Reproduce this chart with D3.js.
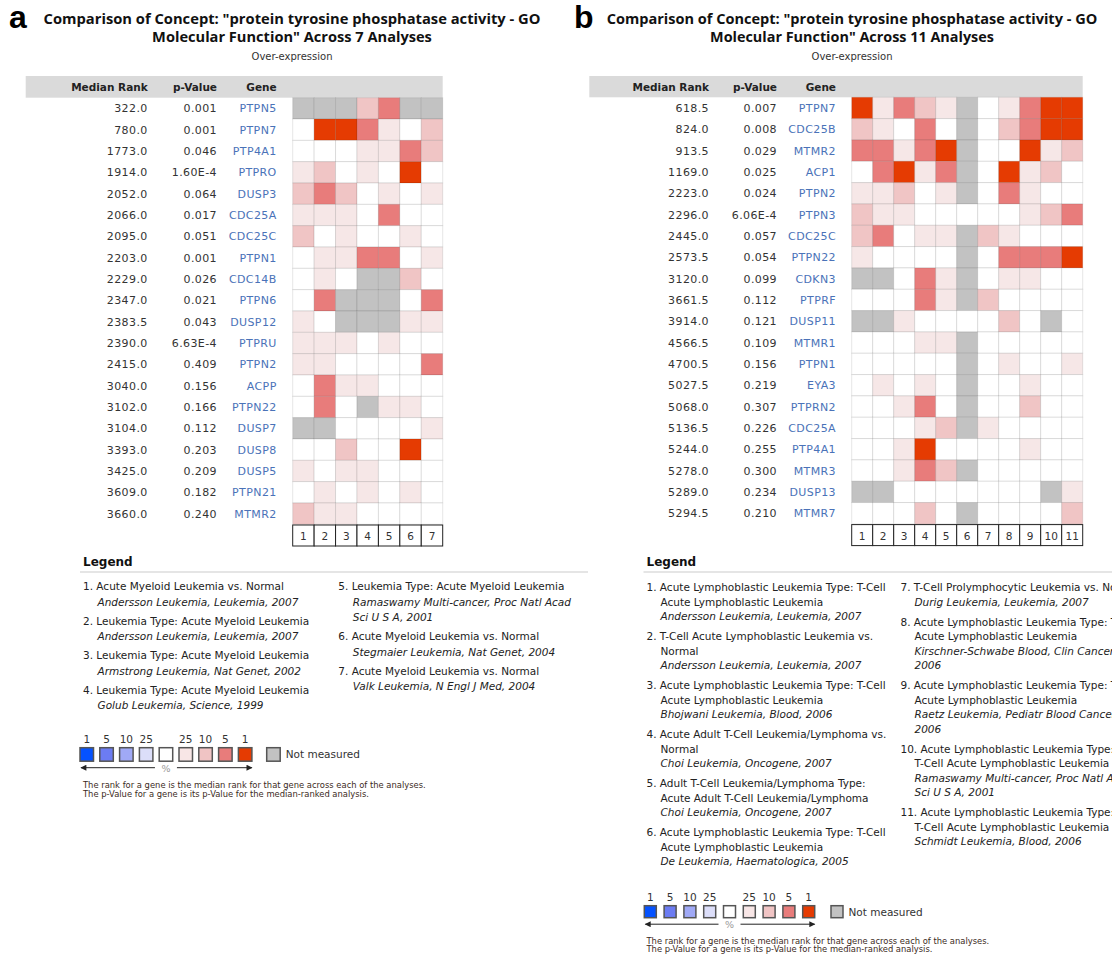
<!DOCTYPE html>
<html><head><meta charset="utf-8">
<script src="https://cdn.jsdelivr.net/npm/d3@7"></script>
<style>body{margin:0;background:#fff}svg{display:block}</style>
</head><body><svg id="c" width="1112" height="960"></svg>
<script>
// ---------------- DATA ----------------
const titleLine1 = 'Comparison of Concept: "protein tyrosine phosphatase activity - GO';
const titleLine2A = 'Molecular Function" Across 7 Analyses';
const titleLine2B = 'Molecular Function" Across 11 Analyses';
const subtitle = "Over-expression";
const tableHeaders = ["Median Rank", "p-Value", "Gene"];

// -1 = not measured, 0 = none, 1 = top 25%, 2 = top 10%, 3 = top 5%, 4 = top 1%
const genesA = ["PTPN5","PTPN7","PTP4A1","PTPRO","DUSP3","CDC25A","CDC25C","PTPN1","CDC14B","PTPN6","DUSP12","PTPRU","PTPN2","ACPP","PTPN22","DUSP7","DUSP8","DUSP5","PTPN21","MTMR2"];
const rankA = ["322.0","780.0","1773.0","1914.0","2052.0","2066.0","2095.0","2203.0","2229.0","2347.0","2383.5","2390.0","2415.0","3040.0","3102.0","3104.0","3393.0","3425.0","3609.0","3660.0"];
const pvalA = ["0.001","0.001","0.046","1.60E-4","0.064","0.017","0.051","0.001","0.026","0.021","0.043","6.63E-4","0.409","0.156","0.166","0.112","0.203","0.209","0.182","0.240"];
const cellsA = [
  [-1,-1,-1, 2, 3,-1,-1],
  [ 0, 4, 4, 3, 1, 0, 2],
  [ 0, 0, 0, 1, 1, 3, 2],
  [ 1, 2, 0, 1, 0, 4, 0],
  [ 2, 3, 2, 0, 1, 0, 1],
  [ 1, 1, 1, 0, 3, 0, 0],
  [ 2, 0, 1, 0, 0, 1, 0],
  [ 0, 1, 1, 3, 3, 0, 1],
  [ 0, 1, 0,-1,-1, 2, 0],
  [ 0, 3,-1,-1,-1, 0, 3],
  [ 1, 0,-1,-1,-1, 1, 1],
  [ 1, 1, 1, 0, 1, 0, 0],
  [ 1, 1, 0, 0, 0, 0, 3],
  [ 0, 3, 1, 1, 0, 0, 0],
  [ 0, 3, 0,-1, 1, 1, 0],
  [-1,-1, 0, 0, 0, 0, 1],
  [ 0, 0, 2, 0, 0, 4, 0],
  [ 1, 0, 1, 1, 0, 0, 0],
  [ 0, 1, 0, 1, 0, 1, 0],
  [ 2, 1, 1, 0, 0, 0, 0]
];

const genesB = ["PTPN7","CDC25B","MTMR2","ACP1","PTPN2","PTPN3","CDC25C","PTPN22","CDKN3","PTPRF","DUSP11","MTMR1","PTPN1","EYA3","PTPRN2","CDC25A","PTP4A1","MTMR3","DUSP13","MTMR7"];
const rankB = ["618.5","824.0","913.5","1169.0","2223.0","2296.0","2445.0","2573.5","3120.0","3661.5","3914.0","4566.5","4700.5","5027.5","5068.0","5136.5","5244.0","5278.0","5289.0","5294.5"];
const pvalB = ["0.007","0.008","0.029","0.025","0.024","6.06E-4","0.057","0.054","0.099","0.112","0.121","0.109","0.156","0.219","0.307","0.226","0.255","0.300","0.234","0.210"];
const cellsB = [
  [ 4, 1, 3, 2, 1,-1, 0, 1, 3, 4, 4],
  [ 2, 1, 0, 3, 0,-1, 0, 2, 3, 4, 4],
  [ 3, 3, 1, 3, 4,-1, 0, 0, 4, 1, 2],
  [ 0, 3, 4, 1, 3,-1, 0, 4, 1, 2, 0],
  [ 1, 1, 2, 0, 1,-1, 0, 3, 1, 0, 0],
  [ 2, 1, 1, 0, 0, 0, 0, 0, 1, 2, 3],
  [ 2, 3, 0, 1, 1,-1, 2, 1, 0, 0, 0],
  [ 1, 0, 0, 0, 0,-1, 0, 3, 3, 3, 4],
  [-1,-1, 0, 3, 1,-1, 0, 1, 1, 0, 0],
  [ 0, 0, 0, 3, 1,-1, 2, 0, 0, 0, 0],
  [-1,-1, 1, 0, 0, 0, 0, 2, 0,-1, 0],
  [ 0, 0, 0, 1, 1,-1, 0, 0, 0, 0, 0],
  [ 0, 0, 0, 0, 0,-1, 0, 1, 0, 0, 1],
  [ 0, 1, 0, 1, 0,-1, 0, 0, 1, 0, 0],
  [ 0, 0, 1, 3, 0,-1, 0, 0, 2, 0, 0],
  [ 0, 0, 0, 1, 2,-1, 1, 0, 0, 0, 0],
  [ 0, 0, 1, 4, 0, 0, 0, 0, 1, 0, 0],
  [ 0, 0, 1, 3, 2,-1, 0, 0, 0, 0, 0],
  [-1,-1, 0, 0, 0, 0, 0, 0, 0,-1, 1],
  [ 0, 0, 0, 2, 0,-1, 0, 0, 0, 0, 2]
];

const legendTitle = "Legend";
// each item: [plain lines], [italic citation lines]
const legendA = [
  [["Acute Myeloid Leukemia vs. Normal"], ["Andersson Leukemia, Leukemia, 2007"]],
  [["Leukemia Type: Acute Myeloid Leukemia"], ["Andersson Leukemia, Leukemia, 2007"]],
  [["Leukemia Type: Acute Myeloid Leukemia"], ["Armstrong Leukemia, Nat Genet, 2002"]],
  [["Leukemia Type: Acute Myeloid Leukemia"], ["Golub Leukemia, Science, 1999"]],
  [["Leukemia Type: Acute Myeloid Leukemia"], ["Ramaswamy Multi-cancer, Proc Natl Acad", "Sci U S A, 2001"]],
  [["Acute Myeloid Leukemia vs. Normal"], ["Stegmaier Leukemia, Nat Genet, 2004"]],
  [["Acute Myeloid Leukemia vs. Normal"], ["Valk Leukemia, N Engl J Med, 2004"]]
];
const legendB = [
  [["Acute Lymphoblastic Leukemia Type: T-Cell", "Acute Lymphoblastic Leukemia"], ["Andersson Leukemia, Leukemia, 2007"]],
  [["T-Cell Acute Lymphoblastic Leukemia vs.", "Normal"], ["Andersson Leukemia, Leukemia, 2007"]],
  [["Acute Lymphoblastic Leukemia Type: T-Cell", "Acute Lymphoblastic Leukemia"], ["Bhojwani Leukemia, Blood, 2006"]],
  [["Acute Adult T-Cell Leukemia/Lymphoma vs.", "Normal"], ["Choi Leukemia, Oncogene, 2007"]],
  [["Adult T-Cell Leukemia/Lymphoma Type:", "Acute Adult T-Cell Leukemia/Lymphoma"], ["Choi Leukemia, Oncogene, 2007"]],
  [["Acute Lymphoblastic Leukemia Type: T-Cell", "Acute Lymphoblastic Leukemia"], ["De Leukemia, Haematologica, 2005"]],
  [["T-Cell Prolymphocytic Leukemia vs. Normal"], ["Durig Leukemia, Leukemia, 2007"]],
  [["Acute Lymphoblastic Leukemia Type: T-Cell", "Acute Lymphoblastic Leukemia"], ["Kirschner-Schwabe Blood, Clin Cancer Res,", "2006"]],
  [["Acute Lymphoblastic Leukemia Type: T-Cell", "Acute Lymphoblastic Leukemia"], ["Raetz Leukemia, Pediatr Blood Cancer,", "2006"]],
  [["Acute Lymphoblastic Leukemia Type:", "T-Cell Acute Lymphoblastic Leukemia"], ["Ramaswamy Multi-cancer, Proc Natl Acad", "Sci U S A, 2001"]],
  [["Acute Lymphoblastic Leukemia Type:", "T-Cell Acute Lymphoblastic Leukemia"], ["Schmidt Leukemia, Blood, 2006"]]
];
const scalePctLabels = ["1", "5", "10", "25", "", "25", "10", "5", "1"];
const scaleKeys = ["u1", "u5", "u10", "u25", "n", "o25", "o10", "o5", "o1"];
const notMeasuredLabel = "Not measured";
const percentLabel = "%";
const footnotes = [
  "The rank for a gene is the median rank for that gene across each of the analyses.",
  "The p-Value for a gene is its p-Value for the median-ranked analysis."
];

// ---------------- STYLES ----------------
const FONT = "'DejaVu Sans', Verdana, sans-serif";
const TITLE_FONT = "'Open Sans', 'DejaVu Sans', sans-serif";
const cellColor = d3.scaleOrdinal()
  .domain([-1, 0, 1, 2, 3, 4])
  .range(["#c2c2c2", "#ffffff", "#f6e7e7", "#f0c5c5", "#e87c7b", "#e53b02"]);
const keyColor = d3.scaleOrdinal()
  .domain(scaleKeys)
  .range(["#0552ff", "#6c7cf2", "#a0a9f6", "#dcdef9", "#ffffff", "#f8e6e6", "#f0c4c4", "#e87c7b", "#e53b02"]);

const svg = d3.select("#c");
svg.append("rect").attr("width", 1112).attr("height", 960).attr("fill", "#fff");
const defs = svg.append("defs");
defs.append("marker").attr("id", "arr").attr("viewBox", "0 0 10 10")
  .attr("refX", 9).attr("refY", 5).attr("markerWidth", 10).attr("markerHeight", 6)
  .attr("markerUnits", "userSpaceOnUse").attr("orient", "auto-start-reverse")
  .append("path").attr("d", "M0,0 L10,5 L0,10 z").attr("fill", "#222");

// scale the font size so that a text spans the wanted width
function fitSize(t, w, base) {
  const L = t.node().getComputedTextLength();
  if (L > 0) t.attr("font-size", (base * w / L).toFixed(2));
}

function drawPanel(cfg) {
  const g = svg.append("g");
  const n = cfg.cells[0].length;
  // panel letter
  g.append("text").attr("x", cfg.letterX).attr("y", 28)
    .attr("font-family", "'Liberation Sans', Arial, sans-serif").attr("font-weight", "bold")
    .attr("font-size", 32).attr("fill", "#000").text(cfg.letter);
  // titles
  const t1 = g.append("text").attr("x", cfg.cx).attr("y", 23.5).attr("text-anchor", "middle")
    .attr("font-family", TITLE_FONT).attr("font-weight", "bold").attr("font-size", 14).attr("fill", "#111")
    .text(titleLine1);
  fitSize(t1, cfg.t1w, 14);
  const t2 = g.append("text").attr("x", cfg.cx).attr("y", 41.5).attr("text-anchor", "middle")
    .attr("font-family", TITLE_FONT).attr("font-weight", "bold").attr("font-size", 14).attr("fill", "#111")
    .text(cfg.title2);
  fitSize(t2, cfg.t2w, 14);
  g.append("text").attr("x", cfg.cx).attr("y", 59.5).attr("text-anchor", "middle")
    .attr("font-family", FONT).attr("font-size", 10).attr("fill", "#333").text(subtitle);

  // scales
  const x = d3.scaleBand().domain(d3.range(1, n + 1)).range([cfg.hx0, cfg.hx0 + n * cfg.cw]);
  const y = d3.scaleBand().domain(d3.range(cfg.genes.length)).range([cfg.hy0, cfg.hy0 + cfg.genes.length * cfg.rh]);

  // header bar
  g.append("rect").attr("x", cfg.barX0).attr("y", 76).attr("width", x.range()[1] - cfg.barX0)
    .attr("height", cfg.hy0 - 76).attr("fill", "#dadada");
  const colsR = [cfg.rankR, cfg.pvalR, cfg.geneR];
  g.selectAll("text.hdr").data(tableHeaders).join("text").attr("class", "hdr")
    .attr("x", (d, i) => colsR[i]).attr("y", 90.5).attr("text-anchor", "end")
    .attr("font-family", FONT).attr("font-weight", "bold").attr("font-size", 10.5)
    .attr("fill", "#222").text(d => d);

  // row text
  const rows = cfg.genes.map((gname, i) => ({ i, gene: gname, rank: cfg.rank[i], pval: cfg.pval[i] }));
  const ty = d => y(d.i) + y.bandwidth() / 2 + 4;
  const rowText = (key, xr, color) => g.selectAll("text.c-" + key).data(rows).join("text")
    .attr("class", "c-" + key).attr("x", xr).attr("y", ty).attr("text-anchor", "end")
    .attr("font-family", FONT).attr("font-size", 11).attr("letter-spacing", 0.4)
    .attr("fill", color).text(d => d[key]);
  rowText("rank", cfg.rankR, "#333");
  rowText("pval", cfg.pvalR, "#333");
  rowText("gene", cfg.geneR, "#4a72b8");

  // cells
  const cells = [];
  cfg.cells.forEach((r, i) => r.forEach((v, j) => cells.push({ i, col: j + 1, v })));
  g.selectAll("rect.cell").data(cells).join("rect").attr("class", "cell")
    .attr("x", d => x(d.col)).attr("y", d => y(d.i))
    .attr("width", x.bandwidth()).attr("height", y.bandwidth())
    .attr("fill", d => cellColor(d.v))
    .attr("stroke", "#000").attr("stroke-opacity", 0.1).attr("stroke-width", 1);

  // column number boxes
  const by = y.range()[1] + 0.7;
  const colG = g.selectAll("g.colnum").data(x.domain()).join("g").attr("class", "colnum");
  colG.append("rect").attr("x", d => x(d)).attr("y", by).attr("width", x.bandwidth()).attr("height", 21)
    .attr("fill", "#fff").attr("stroke", "#222").attr("stroke-width", 1);
  colG.append("text").attr("x", d => x(d) + x.bandwidth() / 2).attr("y", by + 15)
    .attr("text-anchor", "middle").attr("font-family", FONT).attr("font-size", 10.5)
    .attr("fill", "#333").text(d => d);

  // legend
  g.append("text").attr("x", cfg.legX).attr("y", 566).attr("font-family", FONT)
    .attr("font-weight", "bold").attr("font-size", 12).attr("fill", "#111").text(legendTitle);
  g.append("line").attr("x1", cfg.legX - 3).attr("x2", cfg.ruleX2).attr("y1", 572).attr("y2", 572)
    .attr("stroke", "#ddd").attr("stroke-width", 1.5);

  cfg.legendCols.forEach(col => {
    let yy = col.y0;
    col.items.forEach(idx => {
      const item = cfg.legend[idx];
      const lines = item[0].map(s => ({ s, it: false })).concat(item[1].map(s => ({ s, it: true })));
      lines.forEach((ln, k) => {
        const t = g.append("text").attr("y", yy + 4).attr("font-family", FONT).attr("font-size", 10.5)
          .attr("fill", "#222").attr("font-style", ln.it ? "italic" : "normal");
        if (k === 0) t.attr("x", col.x).text((idx + 1) + ". " + ln.s);
        else t.attr("x", col.x + cfg.indent).text(ln.s);
        yy += (k === lines.length - 1) ? 0 : cfg.lineH;
      });
      yy += cfg.lineH + cfg.itemGap;
    });
  });

  // colour key
  const k = cfg.key;
  const kx = d3.scaleBand().domain(scaleKeys).range([k.x0, k.x0 + scaleKeys.length * k.pitch]);
  const keyG = g.selectAll("g.key").data(scaleKeys).join("g").attr("class", "key");
  keyG.append("rect").attr("x", d => kx(d)).attr("y", k.y).attr("width", k.size).attr("height", k.size)
    .attr("fill", d => keyColor(d)).attr("stroke", "#555").attr("stroke-width", 1.5);
  keyG.append("text").attr("x", d => kx(d) + k.size / 2).attr("y", k.y - 5).attr("text-anchor", "middle")
    .attr("font-family", FONT).attr("font-size", 10.5).attr("fill", "#333")
    .text((d, i) => scalePctLabels[i]);
  g.append("rect").attr("x", k.grayX).attr("y", k.y).attr("width", k.size).attr("height", k.size)
    .attr("fill", cellColor(-1)).attr("stroke", "#555").attr("stroke-width", 1.5);
  g.append("text").attr("x", k.grayX + k.size + 5.5).attr("y", k.y + k.size / 2 + 4)
    .attr("font-family", FONT).attr("font-size", 10.5).attr("fill", "#333").text(notMeasuredLabel);
  const ay = k.y + k.size + 6.5;
  const mid = (kx("n") + k.size / 2);
  g.append("line").attr("x1", mid - 11).attr("x2", kx("u1") + 1).attr("y1", ay).attr("y2", ay)
    .attr("stroke", "#222").attr("stroke-width", 1).attr("marker-end", "url(#arr)");
  g.append("line").attr("x1", mid + 11).attr("x2", kx("o1") + k.size).attr("y1", ay).attr("y2", ay)
    .attr("stroke", "#222").attr("stroke-width", 1).attr("marker-end", "url(#arr)");
  g.append("text").attr("x", mid).attr("y", ay + 4).attr("text-anchor", "middle")
    .attr("font-family", FONT).attr("font-size", 9.5).attr("fill", "#999").text(percentLabel);
  g.selectAll("text.foot").data(footnotes).join("text").attr("class", "foot")
    .attr("x", cfg.legX).attr("y", (d, i) => k.footY + i * 8.5)
    .attr("font-family", FONT).attr("font-size", 8.4).attr("fill", "#3b2a22").text(d => d);
}

drawPanel({
  letter: "a", letterX: 9, cx: 292, t1w: 497, t2w: 280, title2: titleLine2A,
  genes: genesA, rank: rankA, pval: pvalA, cells: cellsA,
  barX0: 25.7, rankR: 147.7, pvalR: 217, geneR: 276.7,
  hx0: 292.7, cw: 150 / 7, hy0: 97.7, rh: 21.33,
  legend: legendA, legX: 83, ruleX2: 588, indent: 14.5, lineH: 15.5, itemGap: 3.5,
  legendCols: [{ x: 83, y0: 586, items: [0, 1, 2, 3] }, { x: 338.3, y0: 586, items: [4, 5, 6] }],
  key: { x0: 80, pitch: 19.8, size: 13.5, y: 747.7, grayX: 266.7, footY: 788 }
});
drawPanel({
  letter: "b", letterX: 574, cx: 852, t1w: 491, t2w: 284, title2: titleLine2B,
  genes: genesB, rank: rankB, pval: pvalB, cells: cellsB,
  barX0: 589.3, rankR: 709, pvalR: 777, geneR: 836,
  hx0: 851.7, cw: 21, hy0: 97.3, rh: 21.33,
  legend: legendB, legX: 646.5, ruleX2: 1112, indent: 14, lineH: 14.5, itemGap: 5.5,
  legendCols: [{ x: 646.5, y0: 587, items: [0, 1, 2, 3, 4, 5] }, { x: 900.5, y0: 587, items: [6, 7, 8, 9, 10] }],
  key: { x0: 644.3, pitch: 19.8, size: 12, y: 905.7, grayX: 831, footY: 943.5 }
});
</script></body></html>
